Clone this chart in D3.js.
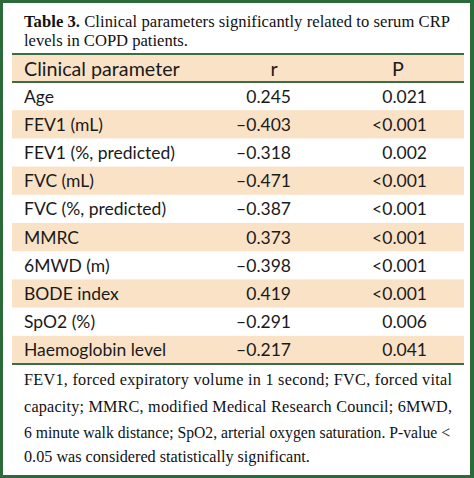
<!DOCTYPE html>
<html>
<head>
<meta charset="utf-8">
<script src="https://cdn.jsdelivr.net/npm/d3@7"></script>
<style>
  html, body { margin: 0; padding: 0; background: #fff; }
  svg { display: block; }
</style>
</head>
<body>
<svg id="chart" width="474" height="478"></svg>
<script>
// ---- data ----
const titleBold = "Table 3.";
const titleLines = [
  " Clinical parameters significantly related to serum CRP",
  "levels in COPD patients."
];
const columns = ["Clinical parameter", "r", "P"];
const parameters = [
  "Age", "FEV1 (mL)", "FEV1 (%, predicted)", "FVC (mL)", "FVC (%, predicted)",
  "MMRC", "6MWD (m)", "BODE index", "SpO2 (%)", "Haemoglobin level"
];
const rValues = [0.245, -0.403, -0.318, -0.471, -0.387, 0.373, -0.398, 0.419, -0.291, -0.217];
const pLabels = ["0.021", "<0.001", "0.002", "<0.001", "<0.001", "<0.001", "<0.001", "<0.001", "0.006", "0.041"];
const footnoteLines = [
  "FEV1, forced expiratory volume in 1 second; FVC, forced vital",
  "capacity; MMRC, modified Medical Research Council; 6MWD,",
  "6 minute walk distance; SpO2, arterial oxygen saturation. P-value <",
  "0.05 was considered statistically significant."
];

// ---- layout ----
const W = 474, H = 478;
const frameColor = "#2b6b39", lineColor = "#3d6e43", bandColor = "#fae2c7";
const serif = "'Liberation Serif', 'DejaVu Serif', serif";
const sans = "Lato, 'Open Sans', sans-serif";
const left = 12, right = 464, textX = 24;
const headTop = 54, headBottom = 82, tableBottom = 364;

const svg = d3.select("#chart");
svg.append("rect").attr("width", W).attr("height", H).attr("fill", "#fff");

function fitSize(textSel, target, base) {
  const w = textSel.node().getComputedTextLength();
  return base * target / w;
}
function probeSize(str, target, family) {
  const p = svg.append("text").attr("font-family", family).attr("font-size", 16).text(str);
  const s = fitSize(p, target, 16);
  p.remove();
  return s;
}

// title
const t2 = svg.append("text").attr("x", textX).attr("y", 45.5)
  .attr("font-family", serif).attr("font-size", 17).attr("fill", "#111")
  .text(titleLines[1]);
const titleSize = fitSize(t2, 164, 17);
t2.attr("font-size", titleSize);
const t1 = svg.append("text").attr("x", textX).attr("y", 27)
  .attr("font-family", serif).attr("font-size", titleSize).attr("fill", "#111");
t1.append("tspan").attr("font-weight", "bold").text(titleBold);
t1.append("tspan").text(titleLines[0]);
t1.attr("textLength", 426).attr("lengthAdjust", "spacing");

// header band
svg.append("rect").attr("x", left).attr("y", headTop).attr("width", right - left)
  .attr("height", headBottom - headTop).attr("fill", bandColor);

// rows
const y = d3.scaleBand().domain(d3.range(parameters.length))
  .range([headBottom, tableBottom]).paddingInner(0);
svg.append("g").selectAll("rect").data(parameters.map((d, i) => i).filter(i => i % 2 === 1))
  .join("rect")
  .attr("x", left).attr("width", right - left)
  .attr("y", i => y(i)).attr("height", y.bandwidth())
  .attr("fill", bandColor);

// lines
[headTop, headBottom, tableBottom].forEach(yy => {
  svg.append("line").attr("x1", left).attr("x2", right).attr("y1", yy).attr("y2", yy)
    .attr("stroke", lineColor).attr("stroke-width", 2);
});

// font size fitting (layout only)
const headSize = probeSize(columns[0], 164, sans) * 0.95;
const bodySize = d3.mean([
  probeSize(parameters[2], 148, sans),
  probeSize(parameters[4], 142, sans),
  probeSize(parameters[9], 133, sans),
  probeSize("0.245", 40, sans)
]) * 1.05;

const rX = 291, pX = 427, rHeadX = 274, pHeadX = 398;
const head = svg.append("g").attr("font-family", sans).attr("font-size", headSize).attr("fill", "#1a1a1a");
head.append("text").attr("x", textX).attr("y", 75.5).text(columns[0]);
head.append("text").attr("x", rHeadX).attr("y", 75.5).attr("text-anchor", "middle").text(columns[1]);
head.append("text").attr("x", pHeadX).attr("y", 75.5).attr("text-anchor", "middle").text(columns[2]);

const fmt = v => d3.format(".3f")(Math.abs(v));
const rowG = svg.append("g").attr("font-family", sans).attr("font-size", bodySize).attr("fill", "#1a1a1a");
const rows = rowG.selectAll("g").data(parameters).join("g")
  .attr("transform", (d, i) => `translate(0,${y(i) + 20.5})`);
rows.append("text").attr("x", textX).text(d => d);
rows.append("text").attr("x", rX).attr("text-anchor", "end")
  .text((d, i) => (rValues[i] < 0 ? "\u2013" : "") + fmt(rValues[i]));
rows.append("text").attr("x", pX).attr("text-anchor", "end")
  .text((d, i) => pLabels[i]);

// footnote
const fBase = [385, 411.5, 437.5, 462];
const f4 = svg.append("text").attr("x", textX).attr("y", fBase[3])
  .attr("font-family", serif).attr("font-size", 17).attr("fill", "#111")
  .text(footnoteLines[3]);
const footSize = fitSize(f4, 286, 17);
f4.attr("font-size", footSize);
const justW = [428, 428, 426];
footnoteLines.slice(0, 3).forEach((line, i) => {
  const t = svg.append("text").attr("x", textX).attr("y", fBase[i])
    .attr("font-family", serif).attr("font-size", footSize).attr("fill", "#111")
    .text(line);
  const w = t.node().getComputedTextLength();
  if (w < justW[i]) t.attr("textLength", justW[i]).attr("lengthAdjust", "spacing");
  else t.attr("textLength", justW[i]).attr("lengthAdjust", "spacingAndGlyphs");
});

// frame
svg.append("rect").attr("x", 1.5).attr("y", 1.5).attr("width", W - 3.5).attr("height", H - 3)
  .attr("fill", "none").attr("stroke", frameColor).attr("stroke-width", 3);
svg.append("line").attr("x1", W - 2).attr("x2", W - 2).attr("y1", 0).attr("y2", H)
  .attr("stroke", frameColor).attr("stroke-width", 4);
</script>
</body>
</html>
